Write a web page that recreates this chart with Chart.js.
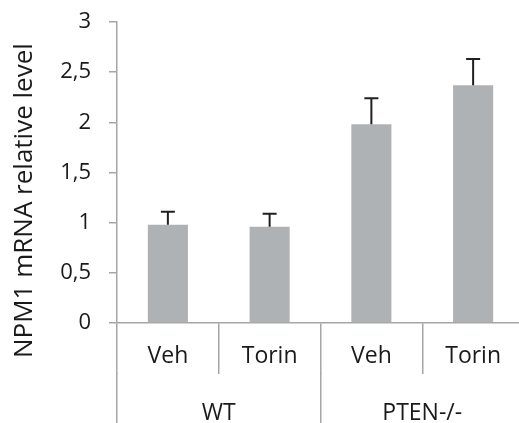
<!DOCTYPE html>
<html>
<head>
<meta charset="utf-8">
<script src="https://cdn.jsdelivr.net/npm/chart.js@4.4.1/dist/chart.umd.min.js"></script>
<style>
  html, body { margin: 0; padding: 0; background: #fff; overflow: hidden; }
  #wrap { width: 524px; height: 423px; }
</style>
</head>
<body>
<div id="wrap"><canvas id="c" width="524" height="423"></canvas></div>
<script>
// ---- data ----
const categories = ["Veh", "Torin", "Veh", "Torin"];
const groups = ["WT", "PTEN-/-"];
const values = [0.98, 0.96, 1.98, 2.37];
const errors = [0.13, 0.13, 0.26, 0.26];
const yTicks = [0, 0.5, 1, 1.5, 2, 2.5, 3];
const yTitle = "NPM1 mRNA relative level";

const axisColor = "#A6A6A6";
const textColor = "#1A1A1A";
const FONT = "'Open Sans', sans-serif";

const errorBars = {
  id: "errorBars",
  afterDatasetsDraw(chart) {
    const meta = chart.getDatasetMeta(0);
    const ys = chart.scales.y;
    const ctx = chart.ctx;
    ctx.save();
    ctx.strokeStyle = "#231F20";
    ctx.lineWidth = 2;
    meta.data.forEach((bar, i) => {
      const x = bar.x;
      const yTop = ys.getPixelForValue(values[i] + errors[i]);
      const yBase = ys.getPixelForValue(values[i]);
      ctx.beginPath();
      ctx.moveTo(x, yBase);
      ctx.lineTo(x, yTop);
      ctx.moveTo(x - 7, yTop);
      ctx.lineTo(x + 7, yTop);
      ctx.stroke();
    });
    ctx.restore();
  }
};

// y-axis title, placed lower than the axis centre as in the reference
const yTitlePlugin = {
  id: "yTitlePlugin",
  afterDraw(chart) {
    const ys = chart.scales.y;
    const ctx = chart.ctx;
    ctx.save();
    ctx.translate(ys.left + 25, ys.bottom + 35);
    ctx.rotate(-Math.PI / 2);
    ctx.font = "26px " + FONT;
    ctx.fillStyle = textColor;
    ctx.textAlign = "left";
    ctx.textBaseline = "middle";
    ctx.fillText(yTitle, 0, 0);
    ctx.restore();
  }
};

new Chart(document.getElementById("c"), {
  type: "bar",
  data: {
    labels: categories,
    datasets: [{
      data: values,
      backgroundColor: "#AFB2B5",
      borderWidth: 0,
      categoryPercentage: 1,
      barPercentage: 0.394
    }]
  },
  options: {
    responsive: false,
    animation: false,
    devicePixelRatio: 1,
    layout: { padding: { top: 22, left: 0, right: 0, bottom: 0 } },
    plugins: { legend: { display: false }, tooltip: { enabled: false } },
    scales: {
      y: {
        min: 0, max: 3,
        afterBuildTicks(s) { s.ticks = yTicks.map(v => ({ value: v })); },
        afterFit(s) { s.width = 117; s.paddingTop = 0; s.paddingBottom = 0; },
        border: { display: true, color: axisColor, width: 1.5 },
        grid: { drawOnChartArea: false, drawTicks: true, tickLength: 8, color: axisColor, lineWidth: 1.5 },
        ticks: {
          padding: 18,
          color: textColor,
          font: { family: FONT, size: 22 },
          callback: v => String(v).replace(".", ",")
        },
        title: { display: false }
      },
      x: {
        type: "category",
        labels: categories,
        position: "bottom",
        afterFit(s) { s.height = 50; s.paddingLeft = 0; s.paddingRight = 0; },
        border: { display: true, color: axisColor, width: 1.5 },
        grid: { offset: true, drawOnChartArea: false, drawTicks: true, tickLength: 51, color: axisColor, lineWidth: 1.5 },
        ticks: {
          padding: -31,
          color: textColor,
          font: { family: FONT, size: 23 },
          maxRotation: 0
        }
      },
      x2: {
        type: "category",
        labels: groups,
        position: "bottom",
        afterFit(s) { s.height = 50; s.paddingLeft = 0; s.paddingRight = 0; },
        border: { display: false },
        grid: { offset: true, drawOnChartArea: false, drawTicks: true, tickLength: 51, color: axisColor, lineWidth: 1.5 },
        ticks: {
          padding: -24,
          color: textColor,
          font: { family: FONT, size: 23 },
          maxRotation: 0
        }
      }
    }
  },
  plugins: [errorBars, yTitlePlugin]
});
</script>
</body>
</html>
